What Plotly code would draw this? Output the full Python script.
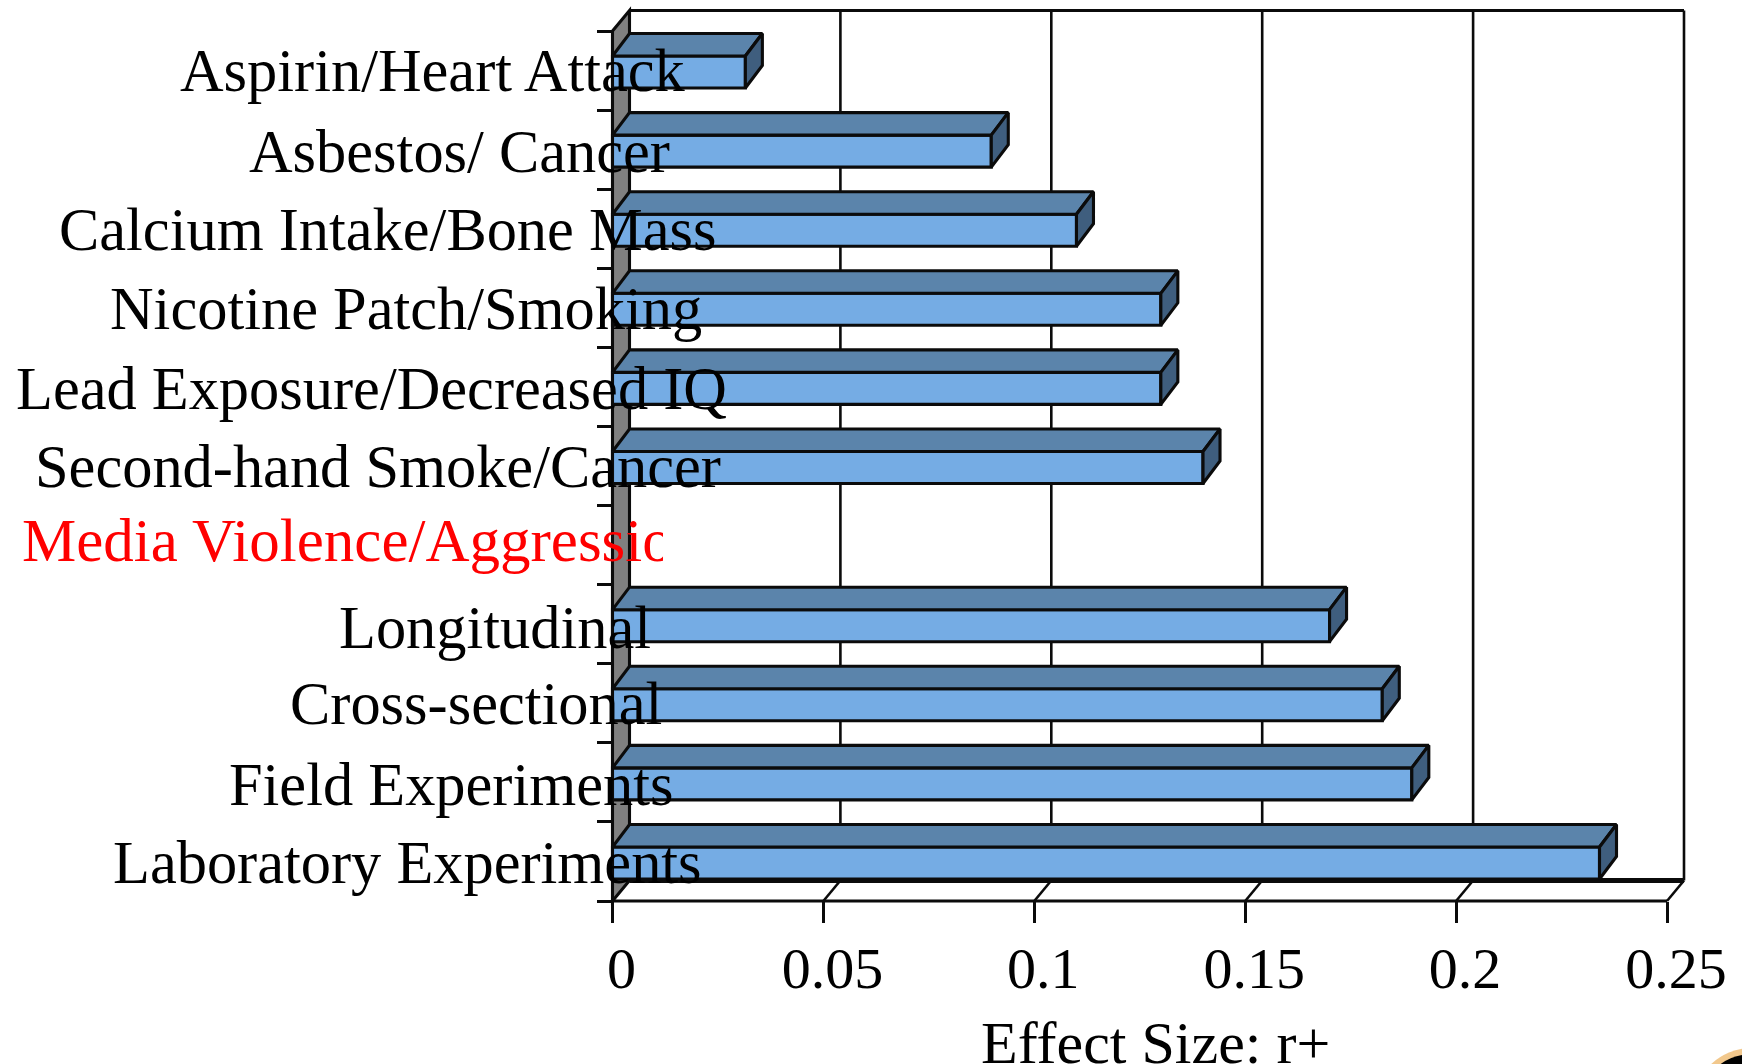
import plotly.graph_objects as go

# ---- data ----
categories = ["Aspirin/Heart Attack", "Asbestos/ Cancer", "Calcium Intake/Bone Mass",
              "Nicotine Patch/Smoking", "Lead Exposure/Decreased IQ", "Second-hand Smoke/Cancer",
              "Media Violence/Aggression", "Longitudinal", "Cross-sectional",
              "Field Experiments", "Laboratory Experiments"]
effect_size = [0.0315, 0.0898, 0.11, 0.13, 0.13, 0.14, None, 0.17, 0.1825, 0.1895, 0.234]
x_ticks = [0, 0.05, 0.1, 0.15, 0.2, 0.25]
x_tick_labels = ["0", "0.05", "0.1", "0.15", "0.2", "0.25"]
x_title = "Effect Size: r+"

# ---- layout constants (pixels of the 1742x1064 page) ----
W, H = 1742, 1064
PX_X0, PX_X25 = 612.5, 1667.0
PX_Y_TOP, PX_Y_BOT = 31.0, 901.0
SX = (PX_X25 - PX_X0) / 0.25
SY = (PX_Y_BOT - PX_Y_TOP) / 11
DOM_L, DOM_R, DOM_T, DOM_B = 606, 1692, 4, 908
x_range = [(DOM_L - PX_X0) / SX, (DOM_R - PX_X0) / SX]
y_range = [10.5 + (DOM_B - PX_Y_BOT) / SY, -0.5 - (PX_Y_TOP - DOM_T) / SY]
wall_dx = 17 / SX
wall_dy = 20.5 / SY
bar_dy = 22.5 / SY
bar_w = 32 / SY
row_shift = 1.5 / SY
FONT = "Liberation Serif"
LABEL_SIZE = 60.4
LINE = "#0b0b0b"
LW = 3.1
GRID_W = 2.6
FRONT, TOP, SIDE = "#75ACE4", "#5B84AB", "#3F5E7E"
label_right_px = [688, 672, 718, 704, 729, 723, None, 653, 664, 675, 704]
label_mid_px = [71, 151, 229, 308, 388, 466, 546, 627, 703, 784, 862]
RED_LEFT_PX, RED_CLIP_PX = 25, 663

fig = go.Figure()

# front faces
rows = [i for i, v in enumerate(effect_size) if v is not None]
fig.add_trace(go.Bar(y=[i + row_shift for i in rows], x=[effect_size[i] for i in rows], orientation="h", width=bar_w,
                     marker=dict(color=FRONT, line=dict(color=LINE, width=LW)),
                     hoverinfo="skip", showlegend=False))
# top and end faces
for i in rows:
    v = effect_size[i]
    t, b = i + row_shift - bar_w / 2, i + row_shift + bar_w / 2
    fig.add_trace(go.Scatter(x=[0, v, v + wall_dx, wall_dx, 0], y=[t, t, t - bar_dy, t - bar_dy, t],
                             mode="lines", fill="toself", fillcolor=TOP,
                             line=dict(color=LINE, width=LW), showlegend=False, hoverinfo="skip"))
    fig.add_trace(go.Scatter(x=[v, v + wall_dx, v + wall_dx, v, v],
                             y=[t, t - bar_dy, b - bar_dy, b, t],
                             mode="lines", fill="toself", fillcolor=SIDE,
                             line=dict(color=LINE, width=LW), showlegend=False, hoverinfo="skip"))

# clipped red label in its own narrow overlay panel
fig.add_trace(go.Scatter(x=[RED_LEFT_PX - 3], y=[label_mid_px[6]], mode="text", text=[categories[6]],
                         textposition="middle right", textfont=dict(family=FONT, size=61, color="#FF0000"),
                         xaxis="x2", yaxis="y2", cliponaxis=True, showlegend=False, hoverinfo="skip"))

# frame: wall, floor, back plane, gridlines (below the bars)
shapes = []
def line(x0, y0, x1, y1, w=GRID_W):
    shapes.append(dict(type="line", layer="below", xref="x", yref="y", x0=x0, y0=y0, x1=x1, y1=y1,
                       line=dict(color=LINE, width=w)))
fl, tp = 10.5, -0.5
shapes.append(dict(type="path", layer="below", xref="x", yref="y",
                   path=f"M 0 {tp} L {wall_dx} {tp - wall_dy} L {wall_dx} {fl - wall_dy} L 0 {fl} Z",
                   fillcolor="#808080", line=dict(color=LINE, width=LW)))
for v in x_ticks[1:]:
    line(v + wall_dx, tp - wall_dy, v + wall_dx, fl - wall_dy)
    line(v, fl, v + wall_dx, fl - wall_dy)
line(wall_dx, tp - wall_dy, x_ticks[-1] + wall_dx, tp - wall_dy, LW)
line(wall_dx, fl - wall_dy, x_ticks[-1] + wall_dx, fl - wall_dy, 5)
line(0, fl, x_ticks[-1], fl, 3)

# corner of a logo cut off by the page edge
for cx, cy, r, col in [(1752, 1108, 60, "#F2C88C"), (1752, 1108, 54, "#000000")]:
    shapes.append(dict(type="circle", layer="above", xref="paper", yref="paper",
                       x0=(cx - r) / W, x1=(cx + r) / W, y0=1 - (cy + r) / H, y1=1 - (cy - r) / H,
                       fillcolor=col, line=dict(width=0)))

annotations = [dict(text=c, xref="paper", yref="paper", x=r / W, y=1 - m / H, xanchor="right", yanchor="middle",
                    showarrow=False, font=dict(family=FONT, size=LABEL_SIZE, color="#000000"))
               for c, r, m in zip(categories, label_right_px, label_mid_px) if r is not None]
annotations.append(dict(text=x_title, xref="paper", yref="paper", x=1155 / W, y=1 - 1043 / H,
                        xanchor="center", yanchor="middle", showarrow=False,
                        font=dict(family=FONT, size=60, color="#000000")))

fig.update_layout(
    width=W, height=H, margin=dict(l=0, r=0, t=0, b=0, autoexpand=False),
    paper_bgcolor="white", plot_bgcolor="rgba(0,0,0,0)",
    barmode="overlay", shapes=shapes, annotations=annotations, showlegend=False,
    xaxis=dict(domain=[DOM_L / W, DOM_R / W], range=x_range, anchor="free", position=1 - PX_Y_BOT / H,
               automargin=False,
               tickmode="array", tickvals=x_ticks, ticktext=x_tick_labels, ticks="outside", ticklen=21,
               tickwidth=GRID_W, tickcolor=LINE, showgrid=False, zeroline=False, showline=False,
               ticklabelstandoff=-5, ticklabelshift=9, tickfont=dict(family=FONT, size=58, color="#000000")),
    yaxis=dict(domain=[1 - DOM_B / H, 1 - DOM_T / H], range=y_range, anchor="free", position=PX_X0 / W,
               automargin=False,
               tickmode="array", tickvals=[i - 0.5 for i in range(12)], ticks="outside", ticklen=16,
               tickwidth=GRID_W, tickcolor=LINE, showticklabels=False, showgrid=False, zeroline=False, showline=False),
    xaxis2=dict(domain=[0, RED_CLIP_PX / W], range=[0, RED_CLIP_PX], visible=False, anchor="y2", automargin=False),
    yaxis2=dict(domain=[0, 1], range=[H, 0], visible=False, anchor="x2", automargin=False),
)
fig.write_html("out.html", config={"displayModeBar": False}, post_script="document.body.style.margin='0';")
